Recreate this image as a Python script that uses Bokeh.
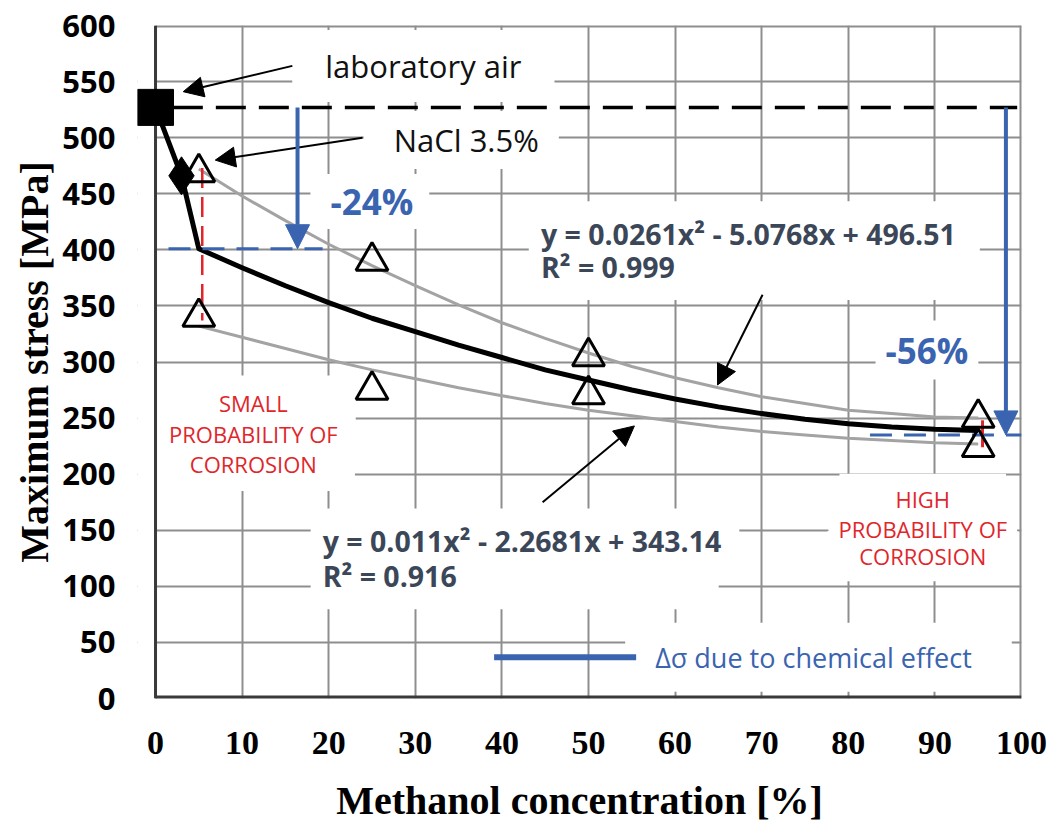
from bokeh.plotting import figure
from bokeh.models import Label, Arrow, NormalHead, FixedTicker, Range1d, ColumnDataSource, BoxAnnotation
from bokeh.embed import file_html
from bokeh.resources import INLINE

# ---------------- data ----------------
air_x = [0]
air_y = [527]
nacl_x = [3]
nacl_y = [466]
meth_x = [5, 25, 50, 95]
meth_upper = [469, 390, 305, 250]
meth_lower = [340, 275, 271, 224]

mean_x = [0, 3, 5, 10, 15, 20, 25, 30, 35, 40, 45, 50, 55, 60, 65, 70, 75, 80, 85, 90, 95]
mean_y = [527, 466, 401, 384, 368, 353, 339, 327, 315, 304, 293, 284, 275, 267, 260, 254, 249, 245, 242, 240, 239]

trend_x = [5, 10, 15, 20, 25, 30, 35, 40, 45, 50, 55, 60, 65, 70, 75, 80, 85, 90, 95]
trend_upper = [472, 448, 426, 405, 386, 368, 351, 335, 321, 308, 296, 286, 277, 269, 263, 257, 254, 251, 250]
trend_lower = [332, 322, 312, 302, 293, 285, 277, 270, 263, 257, 252, 247, 242, 238, 235, 232, 230, 228, 227]

level_air = 527      # laboratory air
level_5 = 401        # 5 % methanol
level_95 = 235       # 95 % methanol
drop_24_x = 16.4
drop_56_x = 98.2

x_ticks = [0, 10, 20, 30, 40, 50, 60, 70, 80, 90, 100]
y_ticks = [0, 50, 100, 150, 200, 250, 300, 350, 400, 450, 500, 550, 600]
x_min, x_max = 0, 100
y_min, y_max = 0, 600

eq_upper = ["y = 0.0261x\u00b2 - 5.0768x + 496.51", "R\u00b2 = 0.999"]
eq_lower = ["y = 0.011x\u00b2 - 2.2681x + 343.14", "R\u00b2 = 0.916"]
small_txt = ["SMALL", "PROBABILITY OF", "CORROSION"]
high_txt = ["HIGH", "PROBABILITY OF", "CORROSION"]

# ---------------- styles ----------------
BLUE = "#3a64b0"
EQ = "#3b4758"
RED = "#e0262b"
GRAY = "#a3a3a3"
GRID = "#8e8e8e"
AXIS = "#3a3a3a"
SANS = "Open Sans"
SERIF = "Liberation Serif"

# the frame starts a little left of x = 0 so the big square marker is not clipped
p = figure(width=1056, height=825, output_backend="svg", toolbar_location=None,
           x_range=Range1d(-2.08, x_max), y_range=Range1d(y_min, y_max),
           min_border_left=137, min_border_right=35, min_border_top=25, min_border_bottom=121)
p.background_fill_color = "white"
p.border_fill_color = "white"
p.outline_line_color = None

p.xaxis.ticker = FixedTicker(ticks=x_ticks)
p.yaxis.ticker = FixedTicker(ticks=y_ticks)
for ax in (p.xaxis[0], p.yaxis[0]):
    ax.axis_line_color = None
    ax.major_tick_line_color = None
    ax.minor_tick_line_color = None
    ax.major_label_text_color = "black"

p.yaxis.major_label_text_font = SANS
p.yaxis.major_label_text_font_style = "bold"
p.yaxis.major_label_text_font_size = "31px"
p.yaxis.major_label_standoff = 16
p.yaxis.axis_label = "Maximum stress [MPa]"
p.yaxis.axis_label_text_font = SERIF
p.yaxis.axis_label_text_font_style = "bold"
p.yaxis.axis_label_text_font_size = "40px"
p.yaxis.axis_label_text_color = "black"
p.yaxis.axis_label_standoff = 2

p.xaxis.major_label_text_font = SERIF
p.xaxis.major_label_text_font_style = "bold"
p.xaxis.major_label_text_font_size = "34px"
p.xaxis.major_label_standoff = 27
p.xaxis.axis_label = "Methanol concentration [%]"
p.xaxis.axis_label_text_font = SERIF
p.xaxis.axis_label_text_font_style = "bold"
p.xaxis.axis_label_text_font_size = "40px"
p.xaxis.axis_label_text_color = "black"
p.xaxis.axis_label_standoff = 21

p.xgrid.grid_line_color = GRID
p.xgrid.grid_line_width = 2
p.ygrid.grid_line_color = GRID
p.ygrid.grid_line_width = 2

# white strip left of x = 0 hides the grid stubs there
p.add_layout(BoxAnnotation(left=-2.08, right=x_min, fill_color="white", fill_alpha=1.0,
                           line_color=None, level="underlay"))

# ---------------- text boxes ----------------
specs = []  # (text, x, y, size, color, bold, align, (l, r, v))
specs.append(("laboratory air", 19.6, 564, "31px", "#111111", False, "left", (33, 33, 15)))
specs.append(("NaCl 3.5%", 27.5, 498, "31px", "#111111", False, "left", (30, 20, 8)))
specs.append(("-24%", 20.2, 443, "35px", BLUE, True, "left", (20, 16, 4)))
specs.append(("-56%", 84.3, 310.6, "35px", BLUE, True, "left", (10, 10, 6)))
specs.append((eq_upper[0], 44.5, 414.0, "28.5px", EQ, True, "left", (12, 24, 14)))
specs.append((eq_upper[1], 44.5, 384.8, "28.5px", EQ, True, "left", (12, 280, 14)))
specs.append((eq_lower[0], 19.3, 140.0, "28.5px", EQ, True, "left", (12, 18, 14)))
specs.append((eq_lower[1], 19.3, 109.1, "28.5px", EQ, True, "left", (12, 262, 14)))
for txt, yy, pp in zip(small_txt, [263.8, 235.5, 209.0], [68, 16, 38]):
    specs.append((txt, 11.3, yy, "22px", RED, False, "center", (pp, pp, 12)))
for txt, yy, pp in zip(high_txt, [178.0, 151.5, 126.8], [56, 10, 32]):
    specs.append((txt, 88.6, yy, "22px", RED, False, "center", (pp, pp, 10)))
specs.append(("\u0394\u03c3 due to chemical effect", 57.7, 36.7, "27px", BLUE, False, "left", (30, 40, 16)))

# white backgrounds first (they cover the grid only) ...
for txt, x, y, size, color, bold, align, (l, r, v) in specs:
    xo = -l if align == "left" else (r - l) / 2
    p.add_layout(Label(x=x, y=y, text=txt, text_font=SANS, text_font_size=size,
                       text_color="white", text_font_style="bold" if bold else "normal",
                       text_align=align, text_baseline="middle", x_offset=xo,
                       background_fill_color="white", background_fill_alpha=1.0,
                       padding=dict(left=l, right=r, top=v, bottom=v), level="underlay"))
# ... then the texts
for txt, x, y, size, color, bold, align, (l, r, v) in specs:
    p.add_layout(Label(x=x, y=y, text=txt, text_font=SANS, text_font_size=size,
                       text_color=color, text_font_style="bold" if bold else "normal",
                       text_align=align, text_baseline="middle", level="underlay"))

# ---------------- frame / axes lines ----------------
p.line([x_min, x_max], [y_max, y_max], line_color=GRID, line_width=4)
p.line([x_max, x_max], [y_min, y_max], line_color=GRID, line_width=4)
p.line([x_min, x_max], [y_min, y_min], line_color=AXIS, line_width=6)
p.line([x_min, x_min], [y_min, y_max], line_color=AXIS, line_width=3)

# ---------------- glyphs ----------------
p.line(trend_x, trend_upper, line_color=GRAY, line_width=3)
p.line(trend_x, trend_lower, line_color=GRAY, line_width=3)
p.line(mean_x, mean_y, line_color="black", line_width=5, line_join="round")

# reference levels
p.line([air_x[0] + 2, 99.5], [level_air, level_air], line_color="black", line_width=3.5,
       line_dash="30 13")
p.line([1.5, 19.3], [level_5, level_5], line_color=BLUE, line_width=3, line_dash="22 12")
p.line([82.5, 100], [level_95, level_95], line_color=BLUE, line_width=3, line_dash="22 12")

# scatter (red) bars at 5 % and 95 %
p.line([meth_x[0] + 0.4, meth_x[0] + 0.4], [meth_upper[0] + 4, meth_lower[0] - 3],
       line_color=RED, line_width=2.5, line_dash="20 9")
p.line([meth_x[3] + 0.5, meth_x[3] + 0.5], [meth_upper[3] - 2, meth_lower[3]],
       line_color=RED, line_width=3)

# legend line
p.line([39.1, 55.5], [36.7, 36.7], line_color=BLUE, line_width=6)

# markers
p.scatter(air_x, air_y, marker="square", size=36, fill_color="black", line_color="black")
p.scatter(nacl_x, nacl_y, marker="diamond", size=38, fill_color="black", line_color="black")
src = ColumnDataSource(dict(x=meth_x + meth_x, y=meth_upper + meth_lower))
p.scatter("x", "y", source=src, marker="triangle", size=32, fill_alpha=0,
          line_color="black", line_width=3)

# arrows
def arrow(x0, y0, x1, y1, color="black", lw=2, size=20):
    p.add_layout(Arrow(end=NormalHead(size=size, fill_color=color, line_color=color),
                       x_start=x0, y_start=y0, x_end=x1, y_end=y1,
                       line_color=color, line_width=lw))

arrow(15.8, 564, 3.2, 541)
arrow(23.9, 500, 6.9, 480)
arrow(70.1, 360, 64.9, 279.5)
arrow(44.7, 175, 55.3, 243)
arrow(drop_24_x, level_air, drop_24_x, level_5, color=BLUE, lw=4, size=24)
arrow(drop_56_x, level_air, drop_56_x, level_95, color=BLUE, lw=4, size=24)

open("out.html", "w").write(file_html(p, INLINE))
